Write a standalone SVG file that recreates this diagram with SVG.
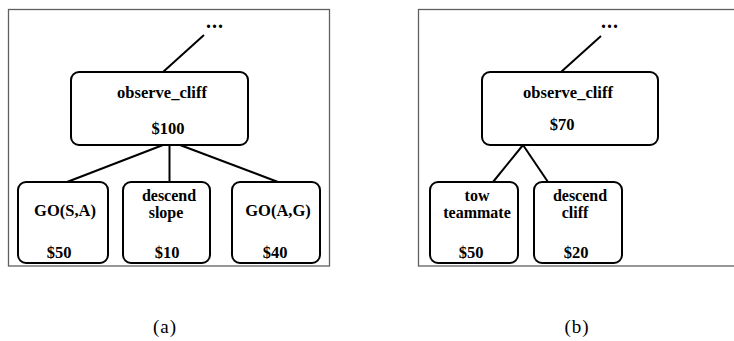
<svg xmlns="http://www.w3.org/2000/svg" width="734" height="341" viewBox="0 0 734 341">
<style>
.frame{fill:none;stroke:#606060;stroke-width:1.3}
.node{fill:#fff;stroke:#000;stroke-width:2}
.edge{stroke:#000;stroke-width:2;fill:none}
.t{font-family:"Liberation Serif","Times New Roman",serif;font-weight:bold;font-size:16.5px;text-anchor:middle;fill:#000}
.t2{font-family:"Liberation Serif","Times New Roman",serif;font-weight:bold;font-size:16px;text-anchor:middle;fill:#000}
.dots{font-family:"Liberation Serif","Times New Roman",serif;font-weight:bold;font-size:20px;letter-spacing:1px;fill:#000}
.cap{font-family:"Liberation Serif","Times New Roman",serif;font-size:19px;text-anchor:middle;letter-spacing:1px;fill:#000}
</style>
<rect class="frame" x="8.5" y="9.5" width="321" height="256.5"/>
<rect class="frame" x="418.5" y="9.5" width="330" height="256.5"/>
<g id="connectors">
<line class="edge" x1="204" y1="35" x2="163" y2="72"/>
<line class="edge" x1="163" y1="145" x2="67" y2="182"/>
<line class="edge" x1="169.5" y1="145" x2="169.5" y2="182"/>
<line class="edge" x1="180" y1="145" x2="278" y2="182"/>
<line class="edge" x1="601" y1="36" x2="561" y2="72"/>
<line class="edge" x1="523" y1="145" x2="493" y2="182"/>
<line class="edge" x1="523" y1="145" x2="548" y2="182"/>
</g>
<g id="dots-a"><text class="dots" x="206" y="28">...</text></g>
<g id="dots-b"><text class="dots" x="601" y="28">...</text></g>
<g id="a-root">
<rect class="node" x="71" y="72" width="177" height="73" rx="8"/>
<text class="t" x="162" y="98">observe_cliff</text>
<text class="t" x="168" y="134">$100</text>
</g>
<g id="a-gosa">
<rect class="node" x="18" y="182" width="90" height="81" rx="8"/>
<text class="t" x="65" y="216">GO(S,A)</text>
<text class="t" x="59" y="258">$50</text>
</g>
<g id="a-descend">
<rect class="node" x="123" y="182" width="87" height="81" rx="8"/>
<text class="t2" x="169" y="201">descend</text>
<text class="t2" x="166" y="218">slope</text>
<text class="t" x="167" y="258">$10</text>
</g>
<g id="a-goag">
<rect class="node" x="232" y="182" width="88" height="81" rx="8"/>
<text class="t" x="278" y="216">GO(A,G)</text>
<text class="t" x="275" y="258">$40</text>
</g>
<g id="b-root">
<rect class="node" x="482" y="72" width="176" height="73" rx="8"/>
<text class="t" x="568" y="98">observe_cliff</text>
<text class="t" x="562" y="130">$70</text>
</g>
<g id="b-tow">
<rect class="node" x="430" y="182" width="88" height="81" rx="8"/>
<text class="t2" x="477" y="201">tow</text>
<text class="t2" x="477" y="218">teammate</text>
<text class="t" x="471" y="258">$50</text>
</g>
<g id="b-descend">
<rect class="node" x="534" y="182" width="88" height="81" rx="8"/>
<text class="t2" x="580" y="201">descend</text>
<text class="t2" x="575" y="218">cliff</text>
<text class="t" x="576" y="258">$20</text>
</g>
<text class="cap" x="165" y="333">(a)</text>
<text class="cap" x="577" y="333">(b)</text>
</svg>
